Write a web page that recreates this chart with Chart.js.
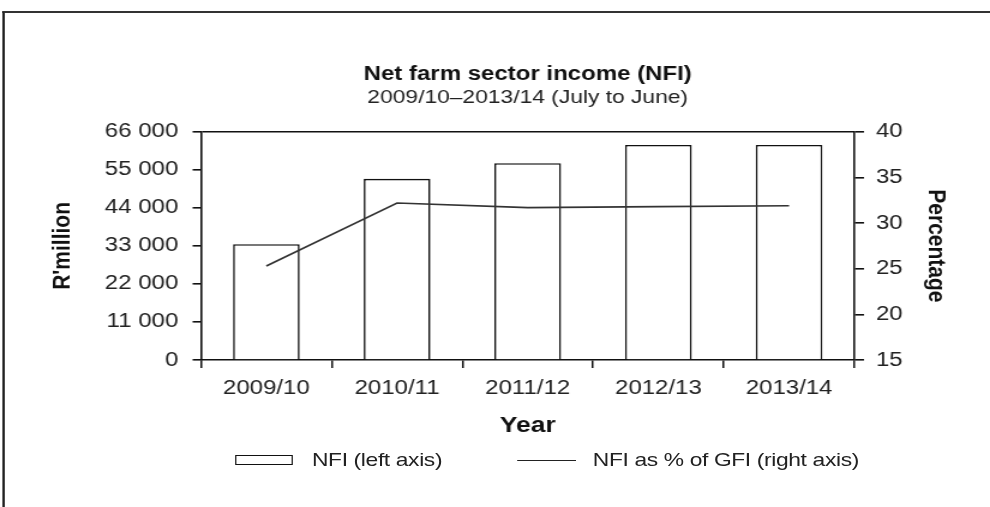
<!DOCTYPE html>
<html>
<head>
  <title>Net farm sector income (NFI)</title>
  <script src="https://cdn.jsdelivr.net/npm/chart.js"></script>
  <style>
    body { margin: 0; background: #fff; font-family: "Liberation Sans", Arial, sans-serif; overflow: hidden; }
    /* the reference is drawn slightly wide, so the whole stage is stretched sideways */
    .stage { position: relative; width: 825px; height: 507px; transform: scaleX(1.2); transform-origin: 0 0; }
    .frame { position: absolute; left: 2px; top: 11px; width: 1000px; height: 800px; border-top: 2px solid #333; border-left: 2px solid #222; }
    canvas { position: absolute; left: 0; top: 0; }
    .legend { position: absolute; top: 450px; height: 20px; display: flex; align-items: center; font-size: 19px; color: #222; letter-spacing: -0.3px; }
    .legend .box { box-sizing: border-box; width: 48px; height: 10px; border: 1.5px solid #111; margin-right: 16px; }
    .legend .ln { width: 49px; height: 0; border-top: 1.6px solid #222; margin-right: 14px; }
  </style>
</head>
<body>
  <div class="stage">
    <div class="frame"></div>
    <canvas id="nfiChart" width="825" height="507"></canvas>
    <div class="legend" style="left:196px"><span class="box"></span>NFI (left axis)</div>
    <div class="legend" style="left:431px"><span class="ln"></span>NFI as % of GFI (right axis)</div>
  </div>

  <script>
    // Data
    const years = ['2009/10', '2010/11', '2011/12', '2012/13', '2013/14'];
    const nfiValues = [33500, 52400, 56900, 62200, 62200];       // R'million, left axis
    const nfiPctOfGfi = [25.3, 32.2, 31.7, 31.8, 31.9];          // %, right axis
    const leftTickLabels = ['0', '11 000', '22 000', '33 000', '44 000', '55 000', '66 000'];
    const rightTickLabels = ['15', '20', '25', '30', '35', '40'];

    Chart.defaults.font.family = '"Liberation Sans", Arial, sans-serif';
    Chart.defaults.color = '#222';

    new Chart(document.getElementById('nfiChart').getContext('2d'), {
      data: {
        labels: years,
        datasets: [
          {
            type: 'line', label: 'NFI as % of GFI (right axis)', data: nfiPctOfGfi, yAxisID: 'yR',
            borderColor: '#333', borderWidth: 1.7, pointRadius: 0, tension: 0, order: 0
          },
          {
            type: 'bar', label: 'NFI (left axis)', data: nfiValues, yAxisID: 'yL',
            backgroundColor: '#fff', borderColor: '#111', borderWidth: 1.6,
            categoryPercentage: 1, barPercentage: 0.51, order: 1
          }
        ]
      },
      options: {
        responsive: false,
        animation: false,
        layout: { padding: { left: 40, right: 33, top: 62, bottom: 68 } },
        plugins: {
          legend: { display: false },
          tooltip: { enabled: false },
          // titles centred over the plot area, not the whole canvas
          title: {
            display: true, fullSize: false, text: 'Net farm sector income (NFI)', color: '#111',
            font: { size: 20, weight: 'bold' }, padding: { top: 0, bottom: 0 }
          },
          subtitle: {
            display: true, fullSize: false, text: '2009/10\u20132013/14 (July to June)', color: '#222',
            font: { size: 19 }, padding: { top: 0, bottom: 23 }
          }
        },
        scales: {
          x: {
            offset: true,
            grid: { offset: true, drawOnChartArea: false, color: '#111', tickColor: '#111', tickLength: 8, lineWidth: 1.5 },
            border: { color: '#111', width: 1.6 },
            ticks: { font: { size: 20 }, padding: 8, maxRotation: 0 },
            title: { display: true, text: 'Year', color: '#111', font: { size: 22, weight: 'bold' }, padding: 0 },
            afterFit: s => { s.height = 79; }
          },
          yL: {
            position: 'left', min: 0, max: 66000,
            grid: {
              color: c => (c.tick && c.tick.value === 66000 ? '#111' : 'rgba(0,0,0,0)'),
              tickColor: '#111', tickLength: 7, lineWidth: 1.6
            },
            border: { color: '#111', width: 1.6 },
            ticks: { stepSize: 11000, font: { size: 20 }, padding: 12, callback: (v, i) => leftTickLabels[i] },
            title: { display: true, text: "R'million", color: '#111', font: { size: 21, weight: 'bold' }, padding: 0 },
            afterFit: s => { s.width = 127.5; }
          },
          yR: {
            position: 'right', min: 15, max: 40,
            grid: { drawOnChartArea: false, color: '#111', tickColor: '#111', tickLength: 8, lineWidth: 1.6 },
            border: { color: '#111', width: 1.6 },
            ticks: { stepSize: 5, font: { size: 20 }, padding: 10, callback: (v, i) => rightTickLabels[i] },
            title: { display: true, text: 'Percentage', color: '#111', font: { size: 21, weight: 'bold' }, padding: 0 },
            afterFit: s => { s.width = 80; }
          }
        }
      }
    });
  </script>
</body>
</html>
